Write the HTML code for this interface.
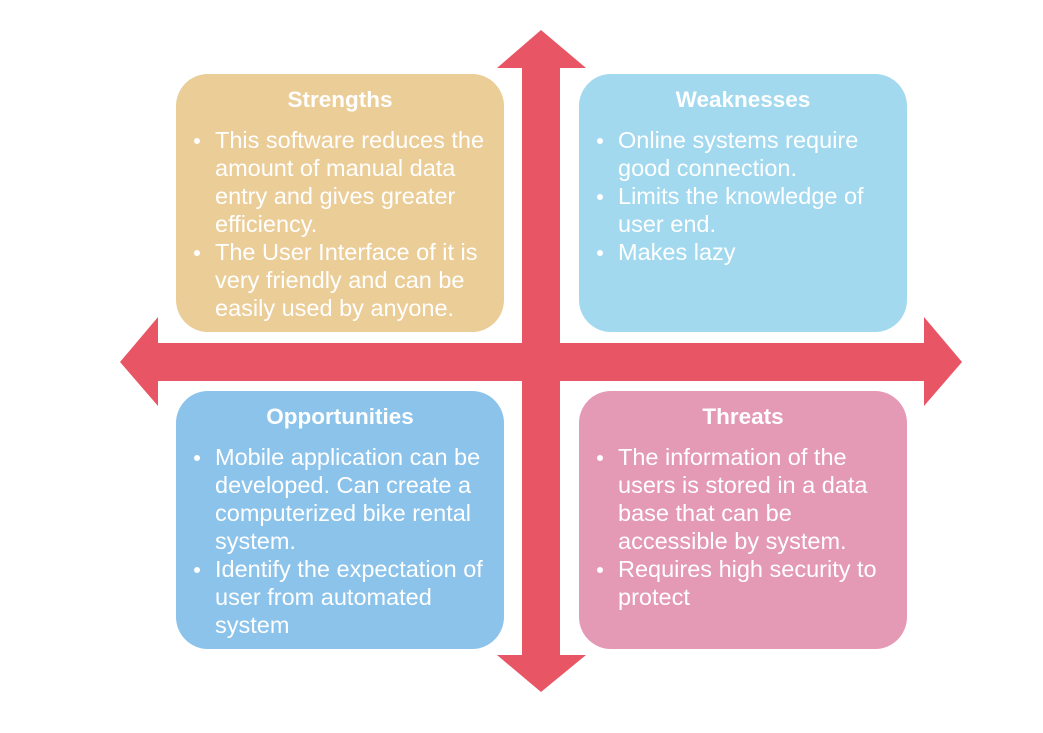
<!DOCTYPE html>
<html><head><meta charset="utf-8"><style>
body{margin:0;width:1043px;height:733px;background:#fff;position:relative;overflow:hidden;font-family:"Liberation Sans",Arial,sans-serif}
.box{position:absolute;width:328px;height:258px;border-radius:32px;color:#fff;box-sizing:border-box}
.box h3{margin:0;position:absolute;top:13px;left:0;right:0;text-align:center;font-size:22.5px;font-weight:bold;line-height:26px}
.box ul{position:absolute;top:52px;left:0;margin:0;padding:0 0 0 39px;list-style:none;width:280px}
.box li{position:relative;font-size:23.5px;line-height:28px;white-space:nowrap}
.box li:before{content:"";position:absolute;left:-21px;top:12px;width:6px;height:6px;border-radius:50%;background:#fff}
</style></head><body>
<svg width="1043" height="733" style="position:absolute;left:0;top:0">
<g fill="#E85565">
<rect x="522" y="66" width="38" height="592"/>
<rect x="156" y="343" width="770" height="38"/>
<polygon points="541,30 586,68 497,68"/>
<polygon points="541,692 586,655 497,655"/>
<polygon points="120,362 158,317 158,406"/>
<polygon points="962,362 924,317 924,406"/>
</g>
</svg>
<div class="box" style="left:176px;top:74px;background:#EBCD98"><h3>Strengths</h3><ul><li>This software reduces the<br>amount of manual data<br>entry and gives greater<br>efficiency.</li><li>The User Interface of it is<br>very friendly and can be<br>easily used by anyone.</li></ul></div>
<div class="box" style="left:579px;top:74px;background:#A2D9EF"><h3>Weaknesses</h3><ul><li>Online systems require<br>good connection.</li><li>Limits the knowledge of<br>user end.</li><li>Makes lazy</li></ul></div>
<div class="box" style="left:176px;top:391px;background:#8BC3EB"><h3>Opportunities</h3><ul><li>Mobile application can be<br>developed. Can create a<br>computerized bike rental<br>system.</li><li>Identify the expectation of<br>user from automated<br>system</li></ul></div>
<div class="box" style="left:579px;top:391px;background:#E499B5"><h3>Threats</h3><ul><li>The information of the<br>users is stored in a data<br>base that can be<br>accessible by system.</li><li>Requires high security to<br>protect</li></ul></div>
</body></html>
